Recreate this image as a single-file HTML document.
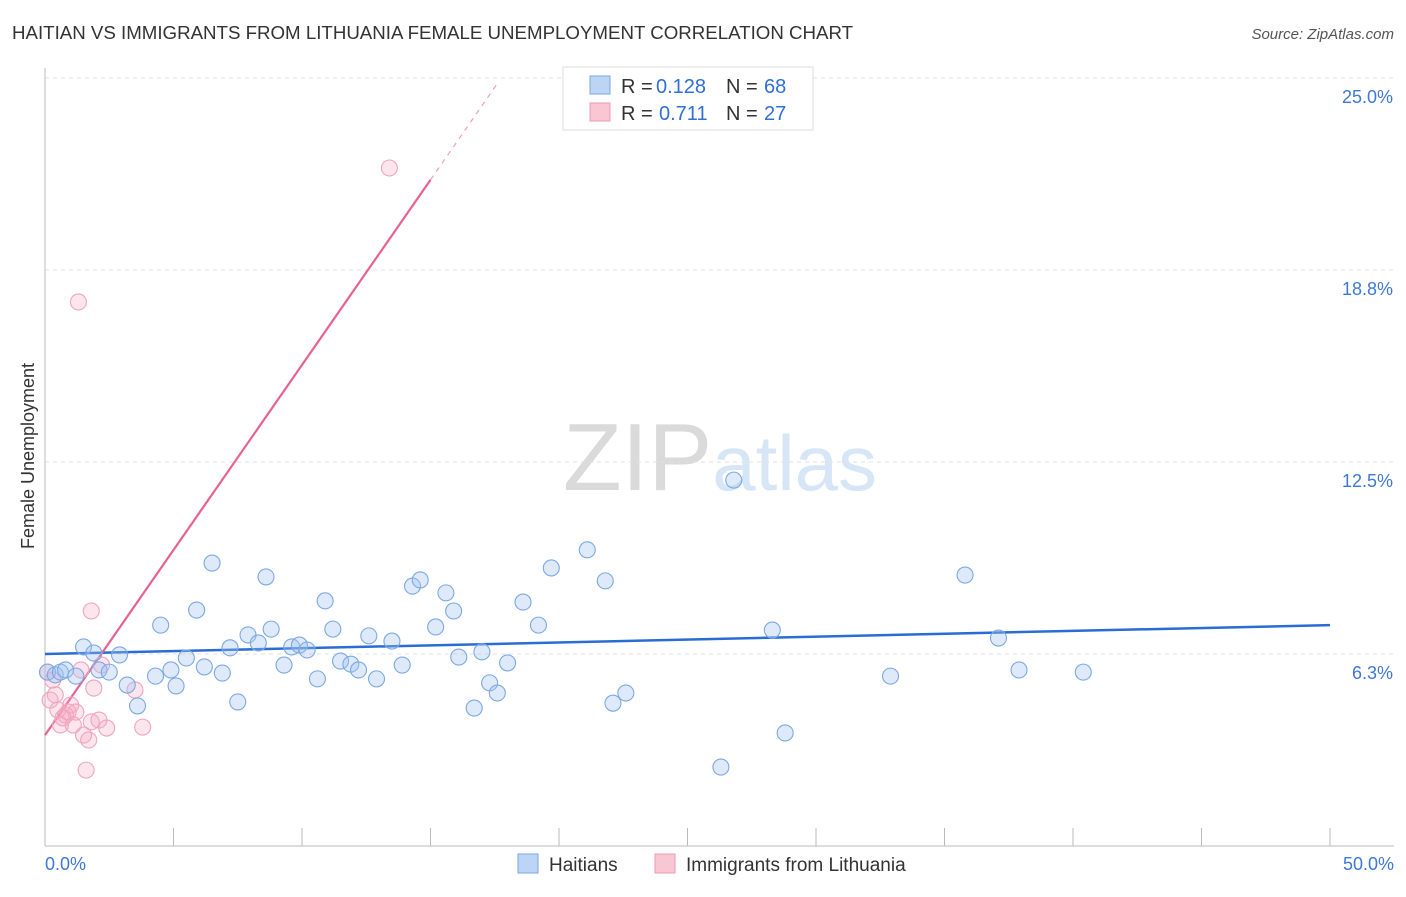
<!DOCTYPE html>
<html><head><meta charset="utf-8"><style>
body{margin:0;background:#fff;font-family:"Liberation Sans",sans-serif;}
svg text{font-family:"Liberation Sans",sans-serif;}
</style></head><body>
<svg id="chart" width="1406" height="892">
<text x="12" y="39" font-size="18.7" fill="#333">HAITIAN VS IMMIGRANTS FROM LITHUANIA FEMALE UNEMPLOYMENT CORRELATION CHART</text>
<text x="1394" y="39" font-size="15" fill="#555" text-anchor="end" font-style="italic">Source: ZipAtlas.com</text>
<text x="720" y="490" font-size="96" fill="#e4e4e4" text-anchor="middle" font-family="Liberation Serif"><tspan fill="#dadada">ZIP</tspan><tspan fill="#d6e6f6" font-family="Liberation Sans" font-size="78">atlas</tspan></text>
<text transform="translate(34,456) rotate(-90)" font-size="18" fill="#333" text-anchor="middle">Female Unemployment</text>
<g id="grid"></g><g id="axes"></g><g id="lines"></g><g id="pts"></g>
<g font-size="20">
<rect x="563" y="67" width="250" height="63" fill="#fff" stroke="#ddd"/>
<rect x="590" y="76" width="20" height="18" fill="#bcd5f5" stroke="#7aa6e0"/>
<text x="621" y="93" fill="#333">R =</text><text x="656" y="93" fill="#2f6fd6">0.128</text>
<text x="726" y="93" fill="#333">N =</text><text x="764" y="93" fill="#2f6fd6">68</text>
<rect x="590" y="103" width="20" height="18" fill="#f9c6d4" stroke="#ec9ab2"/>
<text x="621" y="120" fill="#333">R =</text><text x="659" y="120" fill="#2f6fd6">0.711</text>
<text x="726" y="120" fill="#333">N =</text><text x="764" y="120" fill="#2f6fd6">27</text>
</g>
<g>
<rect x="518" y="854" width="20" height="19" fill="#bcd5f5" stroke="#7aa6e0"/>
<text x="549" y="871" font-size="19" fill="#333">Haitians</text>
<rect x="655" y="854" width="20" height="19" fill="#f9c6d4" stroke="#ec9ab2"/>
<text x="686" y="871" font-size="19" fill="#333">Immigrants from Lithuania</text>
</g>
</svg>
<script>
const yTicks=[6.3,12.5,18.8,25.0];
const yTickVals=[6.25,12.5,18.75,25];
const xTicks=[0,5,10,15,20,25,30,35,40,45,50];
const blueX=[0.1,0.4,0.6,0.8,1.2,1.5,1.9,2.1,2.5,2.9,3.2,3.6,4.3,4.5,4.9,5.1,5.5,5.9,6.2,6.5,6.9,7.2,7.5,7.9,8.3,8.6,8.8,9.3,9.6,9.9,10.2,10.6,10.9,11.2,11.5,11.9,12.2,12.6,12.9,13.5,13.9,14.3,14.6,15.2,15.6,15.9,16.1,16.7,17.0,17.3,17.6,18.0,18.6,19.2,19.7,21.1,21.8,22.1,22.6,26.3,26.8,28.3,28.8,32.9,35.8,37.1,37.9,40.4];
const blueY=[5.66,5.57,5.66,5.73,5.53,6.48,6.28,5.73,5.66,6.22,5.24,4.56,5.53,7.19,5.73,5.21,6.12,7.68,5.83,9.21,5.63,6.45,4.69,6.87,6.61,8.76,7.06,5.89,6.48,6.54,6.38,5.44,7.98,7.06,6.02,5.92,5.73,6.84,5.44,6.67,5.89,8.46,8.66,7.13,8.24,7.65,6.15,4.49,6.32,5.31,4.98,5.96,7.94,7.19,9.05,9.64,8.63,4.65,4.98,2.57,11.91,7.03,3.68,5.53,8.82,6.77,5.73,5.66];
const pinkX=[0.1,0.2,0.4,0.5,0.6,0.8,0.9,1.1,1.2,1.3,1.4,1.5,1.6,1.7,1.8,1.8,1.9,2.1,2.2,2.4,3.5,3.8,13.4,0.3,0.7,1.0];
const pinkY=[5.66,4.75,4.92,4.43,3.94,4.26,4.36,3.94,4.36,17.71,5.73,3.61,2.47,3.45,4.04,7.65,5.14,4.10,5.89,3.84,5.08,3.87,22.07,5.40,4.17,4.59];
const blueTrend=[6.25,7.19];
const pinkTrend=[3.61,1.205];
const NS="http://www.w3.org/2000/svg";
const X=v=>45+v/50*1285, Y=v=>846-v/6.25*192;
function mk(t,a,p){const e=document.createElementNS(NS,t);for(const k in a)e.setAttribute(k,a[k]);document.getElementById(p).appendChild(e);return e;}
yTickVals.forEach((v,i)=>{
 const l=mk('line',{x1:45,x2:1394,y1:Y(v),y2:Y(v),stroke:'#e2e2e2','stroke-dasharray':'4,4'},'grid');
 
 
 const t=mk('text',{x:1393,y:Y(v)+25,'font-size':18,fill:'#3d78d8','text-anchor':'end'},'axes');
 t.textContent=yTicks[i].toFixed(1)+'%';
 
 
});
mk('line',{x1:45,x2:45,y1:68,y2:846,stroke:'#bbb'},'axes');
mk('line',{x1:45,x2:1394,y1:846,y2:846,stroke:'#bbb'},'axes');
xTicks.forEach(v=>{const l=mk('line',{x1:X(v),x2:X(v),y1:828,y2:846,stroke:'#bbb'},'axes');
 
 });
[[0,'0.0%','start',45],[50,'50.0%','end',1394]].forEach(d=>{const t=mk('text',{x:d[3],y:870,'font-size':18,fill:'#3d78d8','text-anchor':d[2]},'axes');t.textContent=d[1];
 
 });
pinkX.forEach((x,i)=>{const c=mk('circle',{cx:X(x),cy:Y(pinkY[i]),r:8,fill:'rgba(246,170,195,0.3)',stroke:'#f0a5bd','stroke-width':1.1},'pts');
 
 });
blueX.forEach((x,i)=>{const c=mk('circle',{cx:X(x),cy:Y(blueY[i]),r:8,fill:'rgba(160,195,240,0.35)',stroke:'#7ba8e4','stroke-width':1.1},'pts');
 
 });
const bl=mk('line',{x1:X(0),y1:Y(blueTrend[0]),x2:X(50),y2:Y(blueTrend[1]),stroke:'#2a6dd2','stroke-width':2.5},'lines');


const pl=mk('line',{x1:X(0),y1:Y(pinkTrend[0]),x2:X(15),y2:Y(pinkTrend[0]+pinkTrend[1]*15),stroke:'#e8628e','stroke-width':2.2},'lines');


const pd=mk('line',{x1:X(15),y1:Y(pinkTrend[0]+pinkTrend[1]*15),x2:X(17.6),y2:Y(pinkTrend[0]+pinkTrend[1]*17.6),stroke:'#f0a0b8','stroke-width':1.2,'stroke-dasharray':'5,5'},'lines');


</script>
</body></html>
